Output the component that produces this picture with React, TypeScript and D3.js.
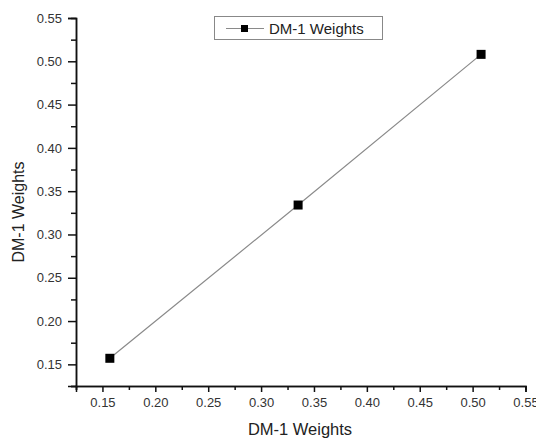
import React, { useRef, useEffect } from "react";
import * as d3 from "d3";

// values
const xValues = [0.157, 0.335, 0.508];
const yValues = [0.157, 0.334, 0.508];
const seriesName = "DM-1 Weights";
const xTitle = "DM-1 Weights";
const yTitle = "DM-1 Weights";
const majorTicks = [0.15, 0.2, 0.25, 0.3, 0.35, 0.4, 0.45, 0.5, 0.55];
const minorTicks = [0.125, 0.175, 0.225, 0.275, 0.325, 0.375, 0.425, 0.475, 0.525];

const W = 536;
const H = 439;
const font = "'Liberation Sans', Arial, sans-serif";

function LineChart() {
    const ref = useRef<SVGSVGElement>(null);

    useEffect(() => {
        const svg = d3.select(ref.current).html("");

        const x = d3.scaleLinear().domain([0.125, 0.55]).range([76, 525.5]);
        const y = d3.scaleLinear().domain([0.125, 0.55]).range([386, 18]);

        svg.append("rect").attr("width", W).attr("height", H).attr("fill", "white");

        // x axis
        const gx = svg.append("g").attr("transform", "translate(0,386)");
        gx.call(d3.axisBottom(x).tickValues(majorTicks).tickSize(6).tickFormat(d3.format(".2f")));
        gx.append("g").call(d3.axisBottom(x).tickValues(minorTicks).tickSize(4).tickFormat(() => ""));
        gx.selectAll(".domain").attr("stroke", "#111").attr("stroke-width", 1.5);
        gx.selectAll("g.tick line").attr("stroke", "#111").attr("stroke-width", 1.5);
        gx.selectAll("g.tick text")
            .attr("font-family", font).attr("font-size", 13).attr("fill", "#333").attr("dy", "0.95em");

        // y axis
        const gy = svg.append("g").attr("transform", "translate(76,0)");
        gy.call(d3.axisLeft(y).tickValues(majorTicks).tickSize(8).tickFormat(d3.format(".2f")));
        gy.append("g").call(d3.axisLeft(y).tickValues(minorTicks).tickSize(5).tickFormat(() => ""));
        gy.selectAll(".domain").attr("stroke", "#111").attr("stroke-width", 1.5);
        gy.selectAll("g.tick line").attr("stroke", "#111").attr("stroke-width", 1.5);
        gy.selectAll("g.tick text")
            .attr("font-family", font).attr("font-size", 13).attr("fill", "#333").attr("x", -14);

        // axis titles
        svg.append("text")
            .attr("x", 300).attr("y", 435)
            .attr("text-anchor", "middle")
            .attr("font-family", font).attr("font-size", 16.5).attr("fill", "#222")
            .text(xTitle);
        svg.append("text")
            .attr("transform", "translate(24,212) rotate(-90)")
            .attr("text-anchor", "middle")
            .attr("font-family", font).attr("font-size", 16).attr("fill", "#222")
            .text(yTitle);

        // series
        const pts = xValues.map((v, i) => [v, yValues[i]] as [number, number]);
        const line = d3.line<[number, number]>().x((d) => x(d[0])).y((d) => y(d[1]));
        svg.append("path")
            .attr("d", line(pts))
            .attr("fill", "none").attr("stroke", "#8a8a8a").attr("stroke-width", 1.2);
        svg.selectAll("rect.pt")
            .data(pts)
            .join("rect")
            .attr("class", "pt")
            .attr("x", (d) => x(d[0]) - 4.5).attr("y", (d) => y(d[1]) - 4.5)
            .attr("width", 9).attr("height", 9)
            .attr("fill", "#000");

        // legend
        const lg = svg.append("g");
        lg.append("rect")
            .attr("x", 214.5).attr("y", 16.5).attr("width", 168).attr("height", 23)
            .attr("fill", "white").attr("stroke", "#888").attr("stroke-width", 1);
        lg.append("line")
            .attr("x1", 226).attr("x2", 264).attr("y1", 28.5).attr("y2", 28.5)
            .attr("stroke", "#8a8a8a").attr("stroke-width", 1.2);
        lg.append("rect").attr("x", 241).attr("y", 25).attr("width", 7).attr("height", 7).attr("fill", "#000");
        lg.append("text")
            .attr("x", 269).attr("y", 34)
            .attr("font-family", font).attr("font-size", 15).attr("fill", "#222")
            .text(seriesName);
    }, []);

    return <svg ref={ref} width={W} height={H} style={{ position: "absolute", left: 0, top: 0 }} />;
}

export default function App() {
    return <LineChart />;
}
